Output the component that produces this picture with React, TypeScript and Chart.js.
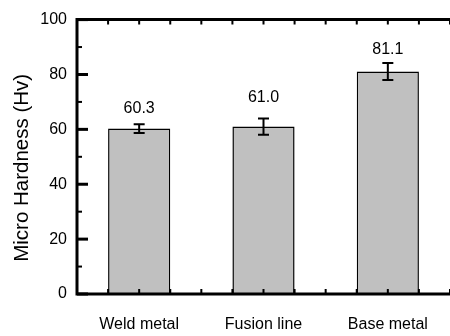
import React, { useEffect, useRef } from 'react';
import { Chart, registerables } from 'chart.js';

Chart.register(...registerables);

const categories = ['Weld metal', 'Fusion line', 'Base metal'];
const hardness = [60.3, 61.0, 81.1];
const errors = [1.6, 3.0, 3.1];
const valueLabels = ['60.3', '61.0', '81.1'];
const labelAnchors = [67.5, 71.6, 89.1];
const yMajorTicks = [0, 20, 40, 60, 80, 100];
const yMinorTicks = [10, 30, 50, 70, 90];
const yTitle = 'Micro Hardness (Hv)';

const FONT = '"Liberation Sans", Arial, Helvetica, sans-serif';

const decorPlugin = {
  id: 'decor',
  afterDatasetsDraw(chart: any) {
    const { ctx, chartArea, scales } = chart;
    const { left, right, top, bottom } = chartArea;
    const x = scales.x;
    const y = scales.y;
    ctx.save();
    ctx.strokeStyle = '#000';
    ctx.fillStyle = '#000';

    // error bars
    ctx.lineWidth = 2;
    hardness.forEach((v, i) => {
      const cx = x.getPixelForValue(i);
      const yt = y.getPixelForValue(v + errors[i]);
      const yb = y.getPixelForValue(v - errors[i]);
      ctx.beginPath();
      ctx.moveTo(cx, yt);
      ctx.lineTo(cx, yb);
      ctx.moveTo(cx - 5.5, yt);
      ctx.lineTo(cx + 5.5, yt);
      ctx.moveTo(cx - 5.5, yb);
      ctx.lineTo(cx + 5.5, yb);
      ctx.stroke();
    });

    // value labels
    ctx.font = '16px ' + FONT;
    ctx.textAlign = 'center';
    ctx.textBaseline = 'middle';
    valueLabels.forEach((t, i) => {
      ctx.fillText(t, x.getPixelForValue(i), y.getPixelForValue(labelAnchors[i]));
    });

    // y axis title
    ctx.save();
    ctx.font = '20.5px ' + FONT;
    ctx.translate(22.5, (top + bottom) / 2 + 11);
    ctx.rotate(-Math.PI / 2);
    ctx.textAlign = 'center';
    ctx.textBaseline = 'middle';
    ctx.fillText(yTitle, 0, 0);
    ctx.restore();

    // y ticks
    ctx.lineWidth = 3;
    yMajorTicks.forEach((t) => {
      const py = y.getPixelForValue(t);
      ctx.beginPath();
      ctx.moveTo(left, py);
      ctx.lineTo(left + 11, py);
      ctx.stroke();
    });
    ctx.lineWidth = 2;
    yMinorTicks.forEach((t) => {
      const py = y.getPixelForValue(t);
      ctx.beginPath();
      ctx.moveTo(left, py);
      ctx.lineTo(left + 5, py);
      ctx.stroke();
    });

    // x ticks (quarter-category steps), top and bottom, inward
    ctx.lineWidth = 2;
    for (let k = -2; k <= 10; k++) {
      const px = x.getPixelForValue(k / 4);
      ctx.beginPath();
      ctx.moveTo(px, top);
      ctx.lineTo(px, top + 5);
      ctx.moveTo(px, bottom);
      ctx.lineTo(px, bottom - 5);
      ctx.stroke();
    }

    // frame
    ctx.lineWidth = 3;
    ctx.lineCap = 'butt';
    ctx.beginPath();
    ctx.moveTo(right + 5, top);
    ctx.lineTo(left, top);
    ctx.lineTo(left, bottom);
    ctx.lineTo(right + 5, bottom);
    ctx.stroke();
    ctx.restore();
  },
};

export default function App() {
  const canvasRef = useRef<HTMLCanvasElement | null>(null);

  useEffect(() => {
    document.body.style.margin = '0';
    const canvas = canvasRef.current;
    if (!canvas) return;
    const chart = new Chart(canvas, {
      type: 'bar',
      data: {
        labels: categories,
        datasets: [
          {
            data: hardness,
            backgroundColor: '#C0C0C0',
            borderColor: '#000000',
            borderWidth: 1.5,
            barPercentage: 0.5,
            categoryPercentage: 1.0,
          },
        ],
      },
      options: {
        animation: false,
        responsive: false,
        maintainAspectRatio: false,
        devicePixelRatio: 1,
        layout: { padding: { top: 15, left: 0, right: -1, bottom: 0 } },
        plugins: {
          legend: { display: false },
          tooltip: { enabled: false },
        },
        scales: {
          x: {
            afterFit: (s: any) => {
              s.height = 42;
            },
            grid: { display: false, drawTicks: false },
            border: { display: false },
            ticks: {
              padding: 21,
              color: '#000',
              font: { size: 16, family: FONT },
              maxRotation: 0,
            },
          },
          y: {
            min: 0,
            max: 100,
            afterFit: (s: any) => {
              s.width = 77;
            },
            grid: { display: false, drawTicks: false },
            border: { display: false },
            ticks: {
              stepSize: 20,
              padding: 10,
              color: '#000',
              font: { size: 16, family: FONT },
            },
          },
        },
      },
      plugins: [decorPlugin],
    });
    return () => chart.destroy();
  }, []);

  return (
    <div style={{ width: 450, height: 336 }}>
      <canvas ref={canvasRef} width={450} height={336} style={{ display: 'block' }} />
    </div>
  );
}
